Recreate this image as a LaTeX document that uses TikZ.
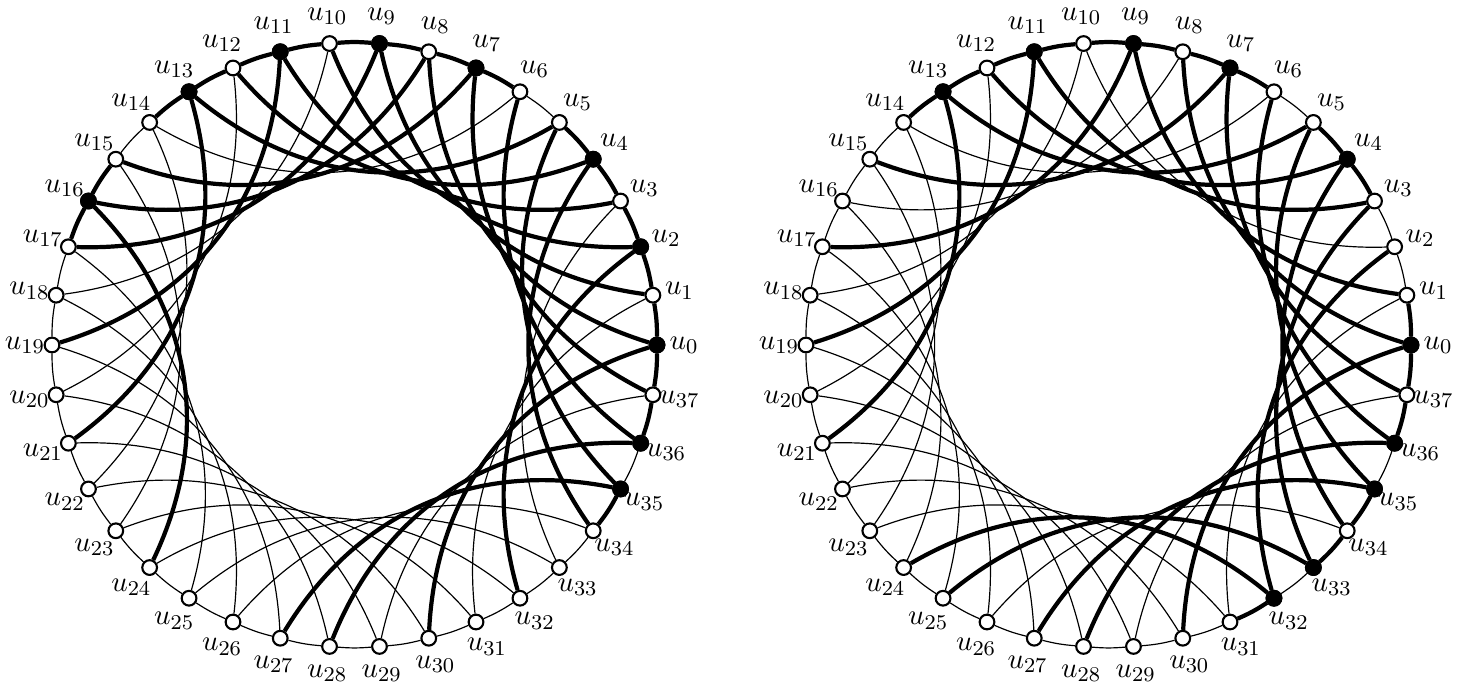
\documentclass[tikz,border=0pt]{standalone}
\usepackage{tikz}
\usetikzlibrary{backgrounds}

\begin{document}
\begin{tikzpicture}[x=0.38pt, y=0.38pt,
    every node/.style={font=\fontsize{11}{13}\selectfont},
    vtx/.style={circle, draw, fill=white, line width=0.8pt, minimum size=5.6pt, inner sep=0pt},
    vtxb/.style={vtx, fill=black},
    ln/.style={line width=0.45pt},
    lk/.style={line width=1.6pt},
    chd/.style={bend left=35},
    rng/.style={bend right=4.74},
  ]
  \useasboundingbox (0,0) rectangle (1484,692);
  % p = prefix, cx = centre, chords i--i+8 drawn thick, ring edges i--i+1 drawn thick, black vertices
  \foreach \p/\cx/\thk/\rthk/\blk in {
      l/354.5/{0,1,2,3,4,5,7,8,9,11,13,16,27,28,30,32,34,35,36,37}/{0,1,2,3,4,6,7,8,9,10,11,12,13,15,16,34,36,37}/{0,2,4,7,9,11,13,16,35,36},
      r/1108.5/{0,1,3,4,5,7,9,11,13,24,25,27,28,30,32,33,34,35,36,37}/{0,3,4,6,7,8,9,10,11,12,13,31,33,34,36,37}/{0,4,7,9,11,13,32,33,35,36}} {
    \foreach \i in {0,...,37} {
      \node[vtx] (\p u\i) at ([shift={(\cx,347)}]\i*360/38:302.5) {};
      \node (\p t\i) at ([shift={(\cx,347)}]\i*360/38:329.5) {$u_{\i}$};
    }
    \foreach \i in \blk
      \node[vtxb] (\p b\i) at (\p u\i) {};
    \begin{scope}[on background layer]
      \foreach \i in {0,...,37} {
        \pgfmathtruncatemacro\j{mod(\i+8,38)}
        \pgfmathtruncatemacro\n{mod(\i+1,38)}
        \draw[ln] (\p u\i) to[chd] (\p u\j);
        \draw[ln] (\p u\i) to[rng] (\p u\n);
      }
      \foreach \i in \thk {
        \pgfmathtruncatemacro\j{mod(\i+8,38)}
        \draw[lk] (\p u\i) to[chd] (\p u\j);
      }
      \foreach \i in \rthk {
        \pgfmathtruncatemacro\n{mod(\i+1,38)}
        \draw[lk] (\p u\i) to[rng] (\p u\n);
      }
    \end{scope}
  }
\end{tikzpicture}
\end{document}
